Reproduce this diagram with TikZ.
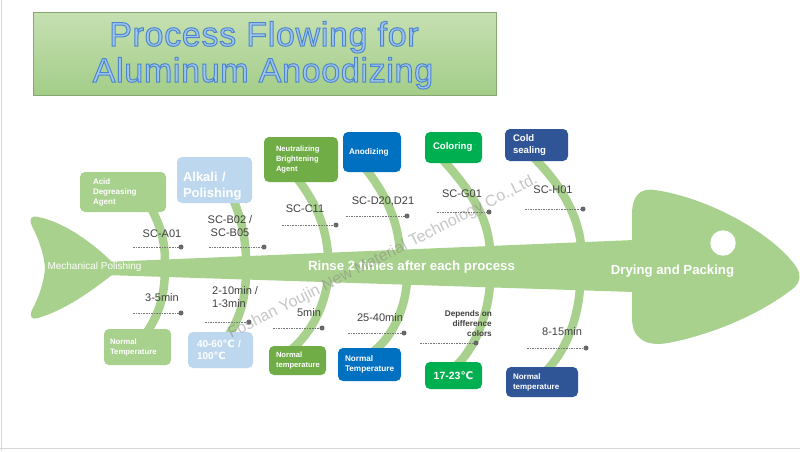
\documentclass[tikz,border=0pt]{standalone}
\usepackage{fontspec}
\setmainfont{Liberation Sans}
\newfontfamily\dejavu{DejaVu Sans}
\newfontfamily\titlefont[LetterSpace=2]{Liberation Sans}
\newcommand{\myC}{{\dejavu ℃}}
\newcommand{\outl}[1]{\special{pdf:code 2 Tr 1.0 w 0.30 0.52 0.80 RG}#1\special{pdf:code 0 Tr 0.4 w}}
\definecolor{fish}{RGB}{169,209,142}
\definecolor{lblue}{RGB}{189,215,238}
\definecolor{mgreen}{RGB}{112,173,71}
\definecolor{mblue}{RGB}{0,112,192}
\definecolor{bgreen}{RGB}{0,176,80}
\definecolor{dblue}{RGB}{47,85,151}
\definecolor{txt}{RGB}{64,64,64}
\definecolor{dashc}{RGB}{120,120,120}
\definecolor{tfill}{RGB}{160,198,236}
\definecolor{frame}{RGB}{215,215,215}
\tikzset{
  bone/.style={draw=fish, line width=8.5pt},
  pbox/.style={rounded corners=5pt, draw=none, text=white, inner ysep=0pt, align=left},
  lbl/.style={text=txt, font=\fontsize{11}{13}\selectfont, inner sep=0pt, align=center},
  dashl/.style={draw=dashc, line width=0.7pt, dash pattern=on 1.6pt off 1pt},
  dotn/.style={circle, fill=dashc!85!black, inner sep=0pt, minimum size=5pt},
  ttl/.style={font=\titlefont\fontsize{34}{40}\selectfont, inner sep=0pt, anchor=base, text=tfill},
}
\begin{document}
\begin{tikzpicture}[x=1pt,y=-1pt]
\useasboundingbox (0,0) rectangle (800,451);
\fill[white] (0,0) rectangle (800,451);
\draw[frame, line width=1.5pt] (1.5,0) -- (1.5,451);
\draw[frame, line width=1pt] (0,448) -- (800,448);

% title
\node[draw=fish!80!black, line width=0.4pt, top color={rgb,255:red,198;green,224;blue,178}, bottom color={rgb,255:red,163;green,205;blue,136}, minimum width=463pt, minimum height=83pt, inner sep=0pt] (title) at (264.5,53.5) {};
\node[ttl] (t1) at (264,46) {\outl{Process Flowing for}};
\node[ttl] (t2) at (263,82) {\outl{Aluminum Anoodizing}};

% fish body
\fill[fish] (105,262) -- (634,240) -- (634,292) -- (105,275) -- cycle;
\fill[fish] (112,262) .. controls (95,245) and (65,222) .. (38,217) .. controls (30,215) and (29,220) .. (32,226) .. controls (40,242) and (44,255) .. (45,268) .. controls (44,282) and (39,297) .. (32,310) .. controls (29,317) and (32,320) .. (38,318) .. controls (65,310) and (90,292) .. (112,275) -- cycle;
\fill[fish] (632,242) -- (632,215) .. controls (632,195) and (640,188) .. (655,190) .. controls (710,198) and (775,235) .. (797,268) .. controls (801,275) and (800,282) .. (795,287) .. controls (760,315) and (710,335) .. (668,343) .. controls (645,347) and (632,338) .. (632,318) -- (632,290) -- cycle;
\fill[white] (723,243) circle (12.7pt);

% rib coordinates
\coordinate (a-t) at (151,208);  \coordinate (a-s) at (165,262);
\coordinate (a-b) at (147,332);  \coordinate (a-u) at (165,272);
\coordinate (b-t) at (233,199);  \coordinate (b-s) at (246,257);
\coordinate (b-b) at (228,336);  \coordinate (b-u) at (246,276);
\coordinate (c-t) at (297,178);  \coordinate (c-s) at (328,255);
\coordinate (c-b) at (292,349);  \coordinate (c-u) at (328,278);
\coordinate (d-t) at (365,168);  \coordinate (d-s) at (400,252);
\coordinate (d-b) at (374,351);  \coordinate (d-u) at (407,281);
\coordinate (g-t) at (443,160);  \coordinate (g-s) at (490,250);
\coordinate (g-b) at (456,366);  \coordinate (g-u) at (490,284);
\coordinate (h-t) at (533,157);  \coordinate (h-s) at (581,245);
\coordinate (h-b) at (546,371);  \coordinate (h-u) at (580,287);

\draw[bone] (a-t) .. controls (160,225) and (165,240) .. (a-s);
\draw[bone] (a-u) .. controls (164,300) and (158,315) .. (a-b);
\draw[bone] (b-t) .. controls (241,218) and (245,235) .. (b-s);
\draw[bone] (b-u) .. controls (245,300) and (240,318) .. (b-b);
\draw[bone] (c-t) .. controls (315,202) and (326,225) .. (c-s);
\draw[bone] (c-u) .. controls (325,305) and (312,332) .. (c-b);
\draw[bone] (d-t) .. controls (385,193) and (398,220) .. (d-s);
\draw[bone] (d-u) .. controls (405,310) and (392,337) .. (d-b);
\draw[bone] (g-t) .. controls (468,188) and (488,215) .. (g-s);
\draw[bone] (g-u) .. controls (488,315) and (475,348) .. (g-b);
\draw[bone] (h-t) .. controls (560,183) and (578,215) .. (h-s);
\draw[bone] (h-u) .. controls (578,320) and (565,352) .. (h-b);

% fish texts
\node[text=white, font=\fontsize{10}{12}\selectfont, inner sep=0pt] (mech) at (94.5,267) {Mechanical Polishing};
\node[text=white, font=\bfseries\fontsize{13.3}{15}\selectfont, inner sep=0pt] (rinse) at (411.5,267) {Rinse 2 times after each process};
\node[text=white, font=\bfseries\fontsize{13.2}{15}\selectfont, inner sep=0pt] (dry) at (672.5,271) {Drying and Packing};

% top boxes
\node[pbox, fill=fish, minimum width=86pt, minimum height=40pt, inner xsep=13pt, text width=60pt, font=\bfseries\fontsize{8}{10}\selectfont] (A1) at (123,192) {Acid\\Degreasing\\Agent};
\node[pbox, fill=lblue, minimum width=75pt, minimum height=46pt, inner sep=0pt] (B1) at (214.5,180) {};
\node[text=white, align=left, inner sep=0pt, text width=63pt, font=\bfseries\fontsize{13}{15.5}\selectfont] (B1t) at (214.5,186) {Alkali /\\Polishing};
\node[pbox, fill=mgreen, minimum width=74pt, minimum height=45pt, inner xsep=12pt, text width=50pt, font=\bfseries\fontsize{7.6}{9.6}\selectfont] (C1) at (301,159.5) {Neutralizing\\Brightening\\Agent};
\node[pbox, fill=mblue, minimum width=58pt, minimum height=40pt, inner xsep=6pt, text width=46pt, font=\bfseries\fontsize{8.2}{10}\selectfont] (D1) at (372,152) {Anodizing};
\node[pbox, fill=bgreen, minimum width=57pt, minimum height=31pt, inner xsep=8pt, text width=41pt, font=\bfseries\fontsize{9.6}{11}\selectfont] (G1) at (453.5,147.5) {Coloring};
\node[pbox, fill=dblue, minimum width=63pt, minimum height=32pt, inner xsep=8pt, text width=47pt, font=\bfseries\fontsize{9.6}{12}\selectfont] (H1) at (536.5,145) {Cold\\sealing};

% bottom boxes
\node[pbox, fill=fish, minimum width=67pt, minimum height=36pt, inner xsep=6pt, text width=55pt, font=\bfseries\fontsize{7.8}{10}\selectfont] (A2) at (137.5,347) {Normal\\Temperature};
\node[pbox, fill=lblue, minimum width=65pt, minimum height=36pt, inner xsep=9pt, text width=47pt, font=\bfseries\fontsize{10}{11.5}\selectfont] (B2) at (220.5,350) {40-60\myC\ /\\100\myC};
\node[pbox, fill=mgreen, minimum width=57pt, minimum height=29pt, inner xsep=7pt, text width=43pt, font=\bfseries\fontsize{7.6}{10}\selectfont] (C2) at (297.5,360.5) {Normal\\temperature};
\node[pbox, fill=mblue, minimum width=63pt, minimum height=33pt, inner xsep=7pt, text width=49pt, font=\bfseries\fontsize{8.2}{10.5}\selectfont] (D2) at (369.5,364.5) {Normal\\Temperature};
\node[pbox, fill=bgreen, minimum width=57pt, minimum height=27pt, inner xsep=4pt, text width=49pt, align=center, font=\bfseries\fontsize{10.5}{12}\selectfont] (G2) at (453.5,375.5) {17-23\myC};
\node[pbox, fill=dblue, minimum width=72pt, minimum height=30pt, inner xsep=7pt, text width=58pt, font=\bfseries\fontsize{8}{10}\selectfont] (H2) at (542,382) {Normal\\temperature};

% labels above
\node[lbl] (la) at (162,234) {SC-A01};
\node[lbl] (lb) at (230,226.5) {SC-B02 /\\SC-B05};
\node[lbl] (lc) at (305,209) {SC-C11};
\node[lbl] (ld) at (383,201) {SC-D20,D21};
\node[lbl] (lg) at (462,194) {SC-G01};
\node[lbl] (lh) at (553,190) {SC-H01};
% labels below
\node[lbl] (ma) at (162,298) {3-5min};
\node[lbl, align=left, anchor=north west] (mb) at (212,286.5) {2-10min /\\1-3min};
\node[lbl] (mc) at (309,313) {5min};
\node[lbl] (md) at (380,318) {25-40min};
\node[lbl, align=right, anchor=north east, font=\bfseries\fontsize{8.2}{10}\selectfont] (mg) at (492,310) {Depends on\\difference\\colors};
\node[lbl] (mh) at (562,332) {8-15min};

% dashed leaders
\foreach \n/\xa/\xb/\yy in {pa/133/181/247, pb/209/264/247, pc/282/336/225, pd/346/407/216, pg/437/489/212, ph/525/583/209,
                              qa/133/181/313, qb/205/249/322, qc/273/322/328, qd/348/404/333, qg/420/476/343, qh/527/586/348}{
  \coordinate (\n-s) at (\xa,\yy);
  \node[dotn] (\n-e) at (\xb,\yy) {};
  \draw[dashl] (\n-s) -- (\n-e.center);
}

% watermark
\node[rotate=26.9, text=gray, text opacity=0.45, font=\fontsize{16}{18}\selectfont, inner sep=0pt] (wm) at (383,257) {Foshan Youjin New Material Technology Co.,Ltd.};
\end{tikzpicture}
\end{document}
